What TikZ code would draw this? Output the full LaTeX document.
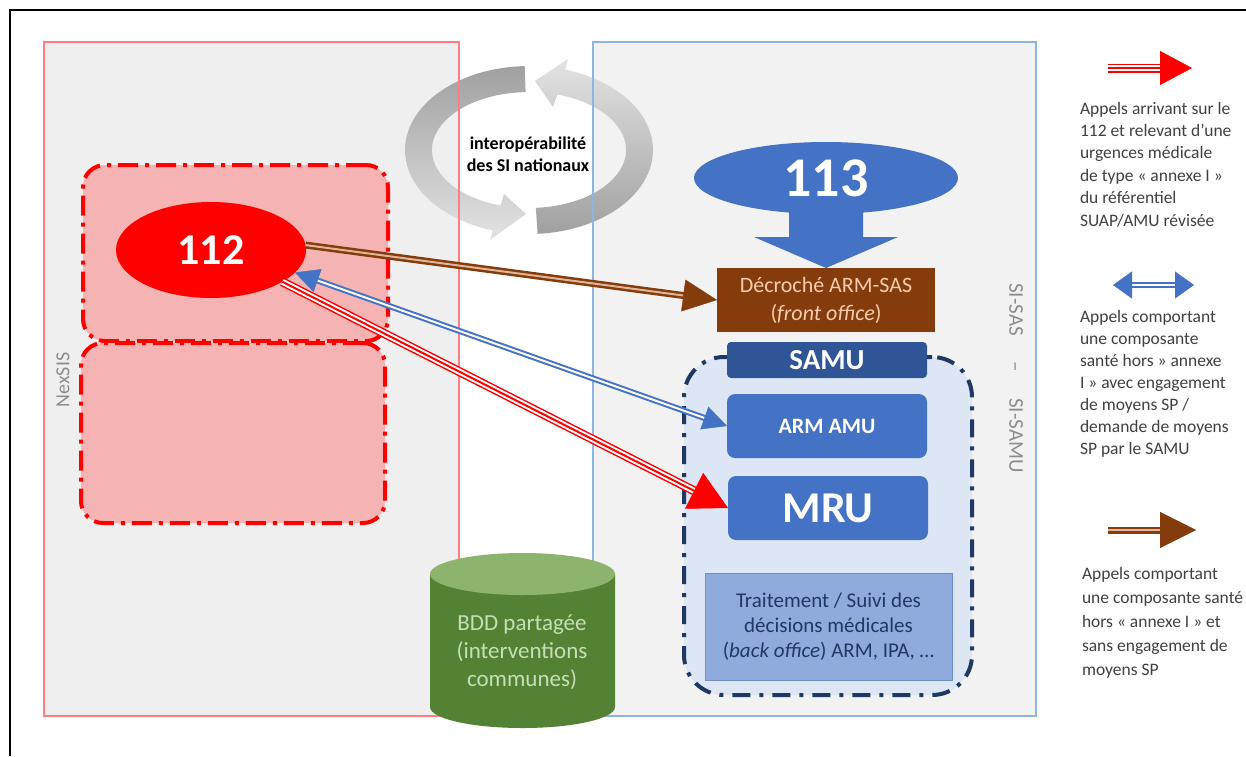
\documentclass[tikz,border=0pt]{standalone}
\usepackage{fontspec}
\setmainfont{Carlito}
\usetikzlibrary{arrows.meta,shapes.geometric,calc}
\definecolor{cRed}{HTML}{FF0000}
\definecolor{cPanelL}{HTML}{FF7C80}
\definecolor{cPanelR}{HTML}{8DB4E2}
\definecolor{cFillL}{HTML}{EFEFEF}
\definecolor{cFillR}{HTML}{F2F2F2}
\definecolor{cPink}{HTML}{F5B3B3}
\definecolor{cBlue}{HTML}{4472C4}
\definecolor{cSamu}{HTML}{2F5597}
\definecolor{cBrown}{HTML}{843C0C}
\definecolor{cPeach}{HTML}{F8CBAD}
\definecolor{cTan}{HTML}{E2B49A}
\definecolor{cNavy}{HTML}{203864}
\definecolor{cSky}{HTML}{DCE6F4}
\definecolor{cTrait}{HTML}{8FAADC}
\definecolor{cTraitB}{HTML}{6F8FCB}
\definecolor{cGreen}{HTML}{548235}
\definecolor{cGreenTop}{HTML}{8DB46C}
\definecolor{cGreenTxt}{HTML}{C5E0B4}
\definecolor{cLeg}{HTML}{404040}
\definecolor{cGrayTxt}{HTML}{8C8C8C}
\definecolor{cArcD}{HTML}{A0A0A0}
\definecolor{cArcL}{HTML}{E3E3E3}

\newcommand{\tipAt}[4]{%
  \draw[#1, line width=0.4pt, -{#2}] ($(#4)!1pt!(#3)$) -- (#4);}
\newcommand{\tripleArrow}[4]{%
  \draw[cRed, line width=9pt, shorten >=#1-1pt] (#3) -- (#4);
  \draw[white, line width=6pt, shorten >=#1-1pt] (#3) -- (#4);
  \draw[cRed, line width=2pt, shorten >=#1-1pt] (#3) -- (#4);
  \tipAt{cRed}{Triangle[length=#1,width=#2]}{#3}{#4}}
\newcommand{\doubleArrow}[4]{%
  \draw[cBlue, line width=6pt, shorten >=#1-1pt, shorten <=#1-1pt] (#3) -- (#4);
  \draw[white, line width=2pt, shorten >=#1-1pt, shorten <=#1-1pt] (#3) -- (#4);
  \tipAt{cBlue}{Triangle[length=#1,width=#2]}{#3}{#4}
  \tipAt{cBlue}{Triangle[length=#1,width=#2]}{#4}{#3}}
\newcommand{\brownArrow}[4]{%
  \draw[cBrown, line width=7pt, shorten >=#1-1pt] (#3) -- (#4);
  \draw[cTan, line width=2pt, shorten >=#1-1pt] (#3) -- (#4);
  \tipAt{cBrown}{Triangle[length=#1,width=#2]}{#3}{#4}}

\tikzset{
  reddash/.style={draw=cRed, fill=cPink, line width=4pt, dash pattern=on 20pt off 7pt on 4pt off 7pt, rounded corners=22pt, anchor=north west},
  navydash/.style={draw=cNavy, fill=cSky, line width=4pt, dash pattern=on 18pt off 9pt on 4pt off 9pt, rounded corners=40pt, anchor=north west},
  legtext/.style={text=cLeg, align=left, anchor=north west},
  bluebox/.style={fill=cBlue, rounded corners=8pt, anchor=north west, text=white, minimum width=200pt},
}

\begin{document}
\begin{tikzpicture}[x=1pt,y=-1pt, every node/.style={inner sep=0pt, outer sep=0pt}]
\useasboundingbox (0,0) rectangle (1246,756);
\fill[white] (0,0) rectangle (1246,756);
\draw[black, line width=2.5pt] (10,756) -- (10,10) -- (1246,10);

% panel fills
\node[fill=cFillL, minimum width=415pt, minimum height=674pt, anchor=north west] (nexsis) at (44,42) {};
\node[fill=cFillR, minimum width=443pt, minimum height=674pt, anchor=north west] (sipanel) at (593,42) {};

% circular arrows
\shade[top color=cArcD, bottom color=cArcL]
  (524.7,66.1) arc[start angle=-92, end angle=-253, x radius=124, y radius=84]
  -- (490,240) -- (526,214) -- (504,194) -- (500.6,205.5)
  arc[start angle=-253, end angle=-92, x radius=97, y radius=58] -- cycle;
\shade[top color=cArcL, bottom color=cArcD]
  (537.6,233.8) arc[start angle=86, end angle=-73, x radius=124, y radius=84]
  -- (568,59) -- (535,81) -- (553,107) -- (557.4,94.5)
  arc[start angle=-73, end angle=86, x radius=97, y radius=58] -- cycle;

% panel borders
\draw[cPanelL, line width=1.5pt] (nexsis.north west) rectangle (nexsis.south east);
\draw[cPanelR, line width=1.2pt] (sipanel.north west) rectangle (sipanel.south east);

\node[font=\bfseries\fontsize{18}{22}\selectfont, align=center] (interop) at (528,154) {interopérabilité\\des SI nationaux};

% NexSIS side
\node[reddash, minimum width=305pt, minimum height=176pt] (box1) at (83,165) {};
\node[reddash, minimum width=304pt, minimum height=180pt] (box2) at (81,343) {};
\node[ellipse, fill=cRed, minimum width=190pt, minimum height=96pt, text=white, font=\bfseries\fontsize{44}{44}\selectfont] (e112) at (211,250) {112};
\node[rotate=90, text=cGrayTxt, font=\fontsize{20}{20}\selectfont] (nexlabel) at (63,380) {NexSIS};

% SI-SAMU side
\node[navydash, minimum width=288pt, minimum height=338pt] (sisamu) at (684,357) {};
\node[ellipse, fill=cBlue, minimum width=264pt, minimum height=72pt, text=white, font=\bfseries\fontsize{56}{56}\selectfont] (e113) at (826,178) {113};
\node[fill=cBrown, minimum width=218pt, minimum height=64pt, anchor=north west, text=cPeach, font=\fontsize{22}{28}\selectfont, align=center] (decroche) at (717,268) {Décroché ARM-SAS\\(\textit{front office})};
\fill[cBlue] ($(e113.south)+(-37,-10)$) -- ($(e113.south)+(37,-10)$) -- ($(e113.south)+(37,23)$) -- ($(e113.south)+(72,23)$) -- (decroche.north) -- ($(e113.south)+(-72,23)$) -- ($(e113.south)+(-37,23)$) -- cycle;
\node[fill=cSamu, rounded corners=4pt, minimum width=200pt, minimum height=36pt, anchor=north west, text=white, font=\bfseries\fontsize{29}{29}\selectfont] (samu) at (727,342) {SAMU};
\node[bluebox, minimum height=64pt, font=\bfseries\fontsize{22}{22}\selectfont] (armamu) at (727,394) {ARM AMU};
\node[bluebox, minimum height=64pt, font=\bfseries\fontsize{44}{44}\selectfont] (mru) at (728,476) {MRU};
\node[fill=cTrait, draw=cTraitB, line width=0.8pt, minimum width=247pt, minimum height=107pt, anchor=north west, text=cNavy, font=\fontsize{21}{25}\selectfont, align=center] (trait) at (705,573) {Traitement / Suivi des\\décisions médicales\\(\textit{back office}) ARM, IPA, …};
\node[rotate=-90, text=cGrayTxt, font=\fontsize{21}{21}\selectfont] (sisas) at (1016,378) {SI-SAS\hspace{26pt}–\hspace{26pt}SI-SAMU};

% shared database cylinder
\fill[cGreen] (430,574) -- (430,707) arc[start angle=180, end angle=0, x radius=92.5, y radius=21] -- (615,574) -- cycle;
\fill[cGreenTop] (522.5,574) ellipse[x radius=92.5, y radius=21];
\node[text=cGreenTxt, font=\fontsize{23}{28}\selectfont, align=center] (bdd) at (522,652) {BDD partagée\\(interventions\\communes)};

% connectors
\brownArrow{34pt}{32pt}{e112.3}{decroche.west}
\doubleArrow{24pt}{24pt}{e112.-15}{armamu.west}
\tripleArrow{38pt}{40pt}{e112.-24}{mru.west}

% legend
\coordinate (lr1) at (1108,68); \coordinate (lr2) at (1192,68);
\coordinate (lb1) at (1113,285); \coordinate (lb2) at (1194,285);
\coordinate (lw1) at (1108,530); \coordinate (lw2) at (1196,530);
\tripleArrow{32pt}{34pt}{lr1}{lr2}
\doubleArrow{19pt}{27pt}{lb1}{lb2}
\brownArrow{36pt}{36pt}{lw1}{lw2}

\node[legtext, font=\fontsize{17.5}{22.4}\selectfont] (leg1) at (1080,102) {Appels arrivant sur le\\112 et relevant d’une\\urgences médicale\\de type « annexe I »\\du référentiel\\SUAP/AMU révisée};
\node[legtext, font=\fontsize{17.5}{22}\selectfont] (leg2) at (1080,310) {Appels comportant\\une composante\\santé hors » annexe\\I » avec engagement\\de moyens SP /\\demande de moyens\\SP par le SAMU};
\node[legtext, font=\fontsize{17.5}{24}\selectfont] (leg3) at (1082,567) {Appels comportant\\une composante santé\\hors « annexe I » et\\sans engagement de\\moyens SP};
\end{tikzpicture}
\end{document}
